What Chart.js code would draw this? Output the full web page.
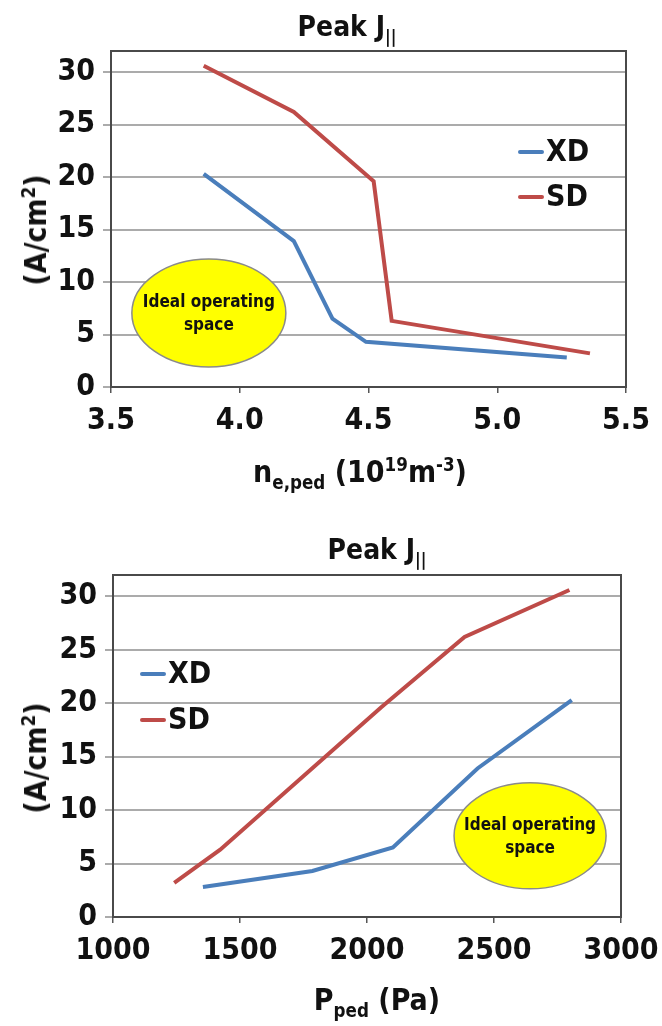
<!DOCTYPE html>
<html>
<head>
<meta charset="utf-8">
<script src="https://cdn.jsdelivr.net/npm/chart.js@4.4.1/dist/chart.umd.min.js"></script>
<style>
  body { margin: 0; background: #fff; width: 662px; height: 1026px; position: relative; overflow: hidden;
         font-family: "Liberation Sans Narrow", "DejaVu Sans Condensed", "Arial Narrow", sans-serif; font-weight: bold; color: #111; }
  canvas { position: absolute; left: 0; }
  .lbl { position: absolute; transform: translate(-50%, -50%); white-space: nowrap; line-height: 1; }
  .ttl { font-size: 28px; }
  .ax { font-size: 30px; }
  .rot { transform: translate(-50%, -50%) rotate(-90deg); }
  sub, sup { font-size: 0.62em; line-height: 0; }
</style>
</head>
<body>
<canvas id="neChart" width="662" height="505" style="top:0"></canvas>
<canvas id="pChart" width="662" height="521" style="top:505px"></canvas>

<div class="lbl ttl" style="left:347px;top:27px">Peak J<sub>||</sub></div>
<div class="lbl ax rot" style="left:36px;top:230px">(A/cm<sup>2</sup>)</div>
<div class="lbl ax" style="left:360px;top:472px">n<sub>e,ped</sub> (10<sup>19</sup>m<sup>-3</sup>)</div>

<div class="lbl ttl" style="left:377px;top:550px">Peak J<sub>||</sub></div>
<div class="lbl ax rot" style="left:36px;top:758px">(A/cm<sup>2</sup>)</div>
<div class="lbl ax" style="left:377px;top:1000px">P<sub>ped</sub> (Pa)</div>

<script>
const FONT = '"Liberation Sans Narrow", "DejaVu Sans Condensed", "Arial Narrow", sans-serif';

// Peak J|| (A/cm2) for each case, same order in both panels
const xdJ = [20.3, 13.9, 6.5, 4.3, 2.8];
const sdJ = [30.6, 26.2, 19.6, 6.3, 3.2];

// pedestal density (1e19 m^-3)
const xdNe = [3.86, 4.21, 4.36, 4.49, 5.27];
const sdNe = [3.86, 4.21, 4.52, 4.59, 5.36];

// pedestal pressure (Pa)
const xdP = [2806, 2435, 2102, 1785, 1354];
const sdP = [2797, 2384, 2055, 1422, 1241];

const yTicks = [0, 5, 10, 15, 20, 25, 30];
const neTicks = [3.5, 4.0, 4.5, 5.0, 5.5];
const pTicks = [1000, 1500, 2000, 2500, 3000];

const seriesNames = ['XD', 'SD'];
const seriesColors = ['#4a7ebb', '#be4b48'];

function points(xs, ys) {
  return xs.map((x, i) => ({ x: x, y: ys[i] }));
}

// yellow "Ideal operating space" bubble, drawn at a data position
const bubblePlugin = {
  id: 'bubble',
  afterDatasetsDraw(chart, args, opts) {
    const ctx = chart.ctx;
    const cx = chart.scales.x.getPixelForValue(opts.x);
    const cy = chart.scales.y.getPixelForValue(opts.y);
    ctx.save();
    ctx.beginPath();
    ctx.ellipse(cx, cy, opts.rx, opts.ry, 0, 0, Math.PI * 2);
    ctx.fillStyle = '#ffff00';
    ctx.fill();
    ctx.lineWidth = 1.5;
    ctx.strokeStyle = '#8a8a8a';
    ctx.stroke();
    ctx.fillStyle = '#111';
    ctx.font = 'bold 17px ' + FONT;
    ctx.textAlign = 'center';
    ctx.textBaseline = 'middle';
    ctx.fillText('Ideal operating', cx, cy - 10);
    ctx.fillText('space', cx, cy + 13);
    ctx.restore();
  }
};

// frame round the plot and the in-plot legend
const framePlugin = {
  id: 'frame',
  afterDraw(chart, args, opts) {
    const ctx = chart.ctx;
    const a = chart.chartArea;
    ctx.save();
    ctx.strokeStyle = '#4a4a4a';
    ctx.lineWidth = 2;
    ctx.strokeRect(a.left, a.top, a.right - a.left, a.bottom - a.top);

    ctx.font = 'bold 30px ' + FONT;
    ctx.textBaseline = 'middle';
    seriesNames.forEach((name, i) => {
      const y = opts.legendY + i * opts.legendGap;
      ctx.strokeStyle = seriesColors[i];
      ctx.lineWidth = 4;
      ctx.lineCap = 'round';
      ctx.beginPath();
      ctx.moveTo(opts.legendX, y);
      ctx.lineTo(opts.legendX + 22, y);
      ctx.stroke();
      ctx.fillStyle = '#111';
      ctx.fillText(name, opts.legendX + 26, y + 1);
    });
    ctx.restore();
  }
};

function createChart(id, cfg) {
  const ctx = document.getElementById(id).getContext('2d');
  return new Chart(ctx, {
    type: 'line',
    data: {
      datasets: [
        { label: 'XD', data: points(cfg.xdX, xdJ), borderColor: seriesColors[0], borderWidth: 4, pointRadius: 0, tension: 0 },
        { label: 'SD', data: points(cfg.sdX, sdJ), borderColor: seriesColors[1], borderWidth: 4, pointRadius: 0, tension: 0 }
      ]
    },
    options: {
      responsive: false,
      animation: false,
      layout: { padding: { top: cfg.top, right: cfg.right, left: 0, bottom: 0 } },
      plugins: {
        legend: { display: false },
        tooltip: { enabled: false },
        bubble: cfg.bubble,
        frame: cfg.legend
      },
      scales: {
        x: {
          type: 'linear',
          min: cfg.xTicks[0],
          max: cfg.xTicks[cfg.xTicks.length - 1],
          afterBuildTicks: s => { s.ticks = cfg.xTicks.map(v => ({ value: v })); },
          afterFit: s => {
            s.height = cfg.xHeight;
            // keep the plot edges where the reference has them
            s.paddingLeft = 0;
            s.paddingRight = 0;
          },
          ticks: {
            callback: cfg.xFormat,
            color: '#111',
            padding: 10,
            maxRotation: 0,
            font: { family: FONT, size: 30, weight: 'bold' }
          },
          grid: { drawOnChartArea: false, tickLength: 6, color: '#555', lineWidth: 1.5 },
          border: { color: '#4a4a4a', width: 2 }
        },
        y: {
          min: 0,
          max: 32,
          afterBuildTicks: s => { s.ticks = yTicks.map(v => ({ value: v })); },
          afterFit: s => { s.width = cfg.yWidth; },
          ticks: {
            color: '#111',
            padding: 8,
            font: { family: FONT, size: 30, weight: 'bold' }
          },
          grid: { color: '#ababab', lineWidth: 2, tickLength: 8 },
          border: { color: '#4a4a4a', width: 2 }
        }
      }
    },
    plugins: [bubblePlugin, framePlugin]
  });
}

document.addEventListener('DOMContentLoaded', function() {
  createChart('neChart', {
    xdX: xdNe, sdX: sdNe, xTicks: neTicks,
    xFormat: v => Number(v).toFixed(1),
    top: 51, right: 36, yWidth: 111, xHeight: 118,
    bubble: { x: 3.88, y: 7.05, rx: 77, ry: 54 },
    legend: { legendX: 520, legendY: 152, legendGap: 45 }
  });

  createChart('pChart', {
    xdX: xdP, sdX: sdP, xTicks: pTicks,
    xFormat: v => String(v),
    top: 70, right: 41, yWidth: 113, xHeight: 109,
    bubble: { x: 2642, y: 7.6, rx: 76, ry: 53 },
    legend: { legendX: 142, legendY: 169, legendGap: 46 }
  });
});
</script>
</body>
</html>
